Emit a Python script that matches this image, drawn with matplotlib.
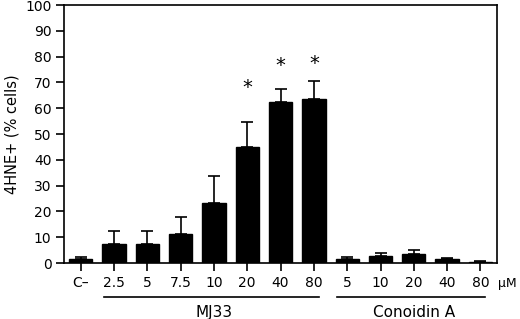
import matplotlib
matplotlib.use("Agg")
import matplotlib.pyplot as plt
import matplotlib.transforms as mtransforms

plt.rcParams["font.family"] = ["DejaVu Sans"]

# data
labels = ["C\u2013", "2.5", "5", "7.5", "10", "20", "40", "80", "5", "10", "20", "40", "80"]
values = [1.5, 7.3, 7.3, 11.2, 23.4, 44.8, 62.4, 63.4, 1.7, 2.6, 3.4, 1.5, 0.5]
errors = [0.7, 5.0, 5.0, 6.8, 10.3, 9.8, 4.9, 7.1, 0.6, 1.1, 1.8, 0.5, 0.2]
star_idx = [5, 6, 7]
star_y = [68.0, 76.5, 77.5]
groups = [("MJ33", 1, 7), ("Conoidin A", 8, 12)]

fig = plt.figure(figsize=(5.2, 3.19), dpi=100)
ax = fig.add_axes([0.123, 0.1755, 0.833, 0.8085])

x = list(range(len(values)))
ax.bar(x, values, width=0.7, color="black", edgecolor="black")
ax.errorbar(x, values, yerr=[[0] * len(errors), errors], fmt="none",
            ecolor="black", elinewidth=1.2, capsize=4.5, capthick=1.2)

for i, sy in zip(star_idx, star_y):
    ax.text(i, sy, "*", ha="center", va="center", fontsize=14)

ax.set_xlim(-0.5, 12.5)
ax.set_ylim(0, 100)
ax.set_yticks(range(0, 101, 10))
ax.set_xticks(x)
ax.set_xticklabels(labels)
ax.tick_params(axis="both", direction="out", length=6, width=1.2, labelsize=10, pad=3)
for s in ax.spines.values():
    s.set_linewidth(1.2)
ax.set_ylabel("4HNE+ (% cells)", fontsize=10.5, labelpad=4)

trans = mtransforms.blended_transform_factory(ax.transData, ax.transAxes)
for name, a, b in groups:
    ax.plot([a - 0.3, b + 0.15], [-0.13, -0.13], color="black", lw=1.2,
            transform=trans, clip_on=False)
    ax.text((a + b) / 2, -0.19, name, transform=trans, ha="center", va="center",
            fontsize=11)

ax.text(1.003, -0.078, "\u00b5M", transform=ax.transAxes, ha="left", va="center",
        fontsize=9)

fig.savefig("out.png", dpi=100)
